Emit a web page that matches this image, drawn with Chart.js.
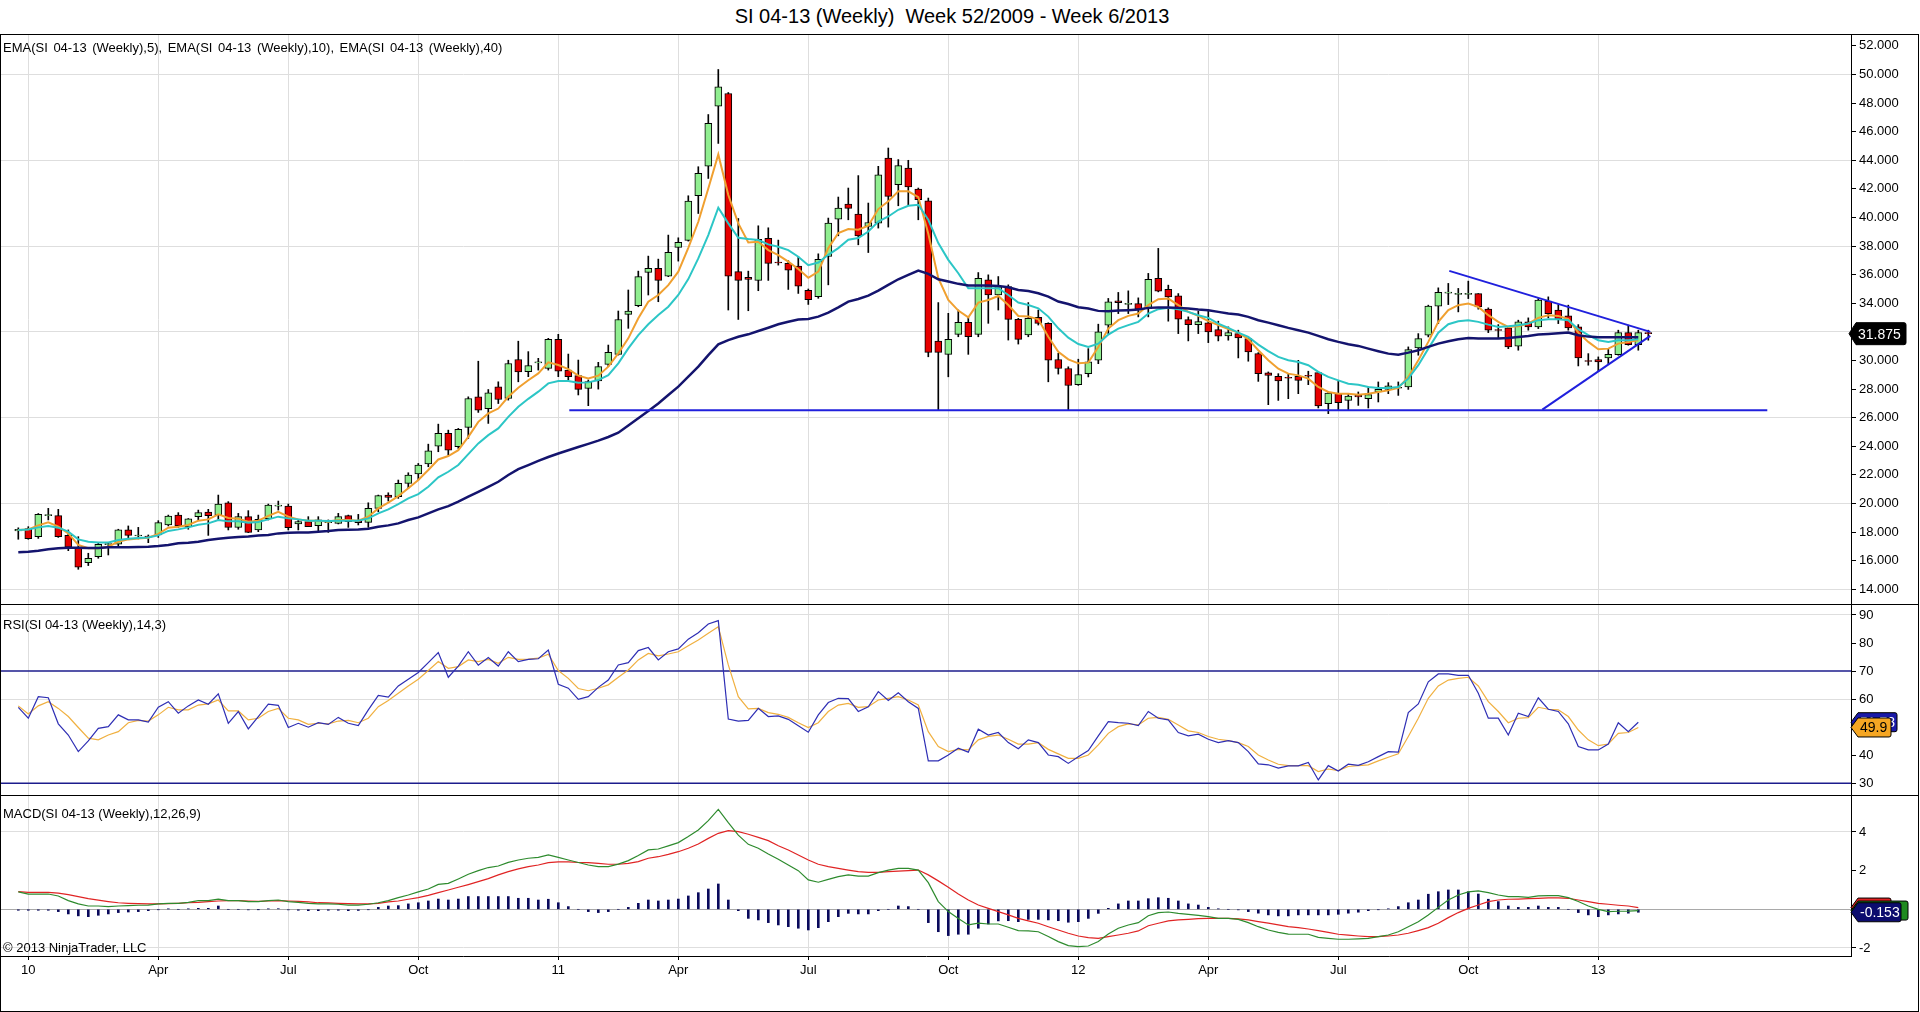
<!DOCTYPE html>
<html>
<head>
<meta charset="utf-8">
<title>SI 04-13 (Weekly)</title>
<script src="https://cdn.jsdelivr.net/npm/chart.js@4.4.1/dist/chart.umd.min.js"></script>
<style>
  html, body { margin: 0; padding: 0; background: #fff; width: 1920px; height: 1012px; overflow: hidden;
    font-family: "Liberation Sans", Arial, sans-serif; color: #000; }
  .abs { position: absolute; }
  canvas { position: absolute; left: 1px; }
  #title { left: 0; top: 5px; width: 1904px; text-align: center; font-size: 20px; white-space: pre; }
  #frame { left: 0; top: 34px; width: 1919px; height: 978px; border: 1px solid #000; box-sizing: border-box; }
  .sep { left: 0; width: 1919px; height: 1px; background: #000; }
  .lbl { left: 3px; font-size: 13px; line-height: 15px; white-space: pre; z-index: 3; }
  #emaLegend { word-spacing: 2px; }
</style>
</head>
<body>
<div id="title" class="abs">SI 04-13 (Weekly)  Week 52/2009 - Week 6/2013</div>
<div id="frame" class="abs"></div>
<canvas id="priceChart" width="1916" height="569" style="top:35px;width:1916px;height:569px"></canvas>
<canvas id="rsiChart" width="1916" height="190" style="top:605px;width:1916px;height:190px"></canvas>
<canvas id="macdChart" width="1916" height="214" style="top:796px;width:1916px;height:214px"></canvas>
<div class="abs sep" style="top:604px"></div>
<div class="abs sep" style="top:795px"></div>
<div id="emaLegend" class="abs lbl" style="top:40px">EMA(SI 04-13 (Weekly),5), EMA(SI 04-13 (Weekly),10), EMA(SI 04-13 (Weekly),40)</div>
<div class="abs lbl" style="top:617px">RSI(SI 04-13 (Weekly),14,3)</div>
<div class="abs lbl" style="top:806px">MACD(SI 04-13 (Weekly),12,26,9)</div>
<div class="abs lbl" style="top:940px">© 2013 NinjaTrader, LLC</div>

<script>
// Weekly bars, week 52/2009 .. week 6/2013 (bar index 0..163)
const opens = [18.08,18.24,17.68,19.15,19.15,17.77,16.87,15.87,16.28,17.12,
  17.15,18.15,17.73,17.70,17.80,18.50,19.19,18.38,19.08,19.40,
  19.19,20.05,18.33,19.08,18.15,18.94,19.82,19.82,18.57,18.73,
  18.45,18.66,18.61,19.15,18.80,18.68,19.66,20.59,20.48,21.41,
  22.06,22.76,24.01,24.90,23.97,25.32,27.46,26.64,28.16,27.34,
  30.07,29.22,29.83,29.45,31.48,29.33,28.94,28.05,28.57,29.73,
  30.43,33.22,33.83,36.16,36.44,35.90,37.91,38.40,41.52,43.59,
  47.79,48.67,36.21,35.81,35.60,38.54,36.86,36.79,36.60,34.90,
  34.47,37.27,39.89,40.94,40.24,39.37,39.61,44.16,42.29,43.46,
  41.99,41.17,31.36,30.43,31.83,32.67,31.83,35.64,34.58,35.17,
  32.88,31.78,33.02,32.60,30.07,29.44,28.31,29.08,30.02,32.47,
  34.17,33.92,33.98,33.63,35.74,34.97,34.52,32.86,32.51,32.63,
  32.16,31.72,31.88,31.53,30.48,29.13,28.89,28.80,28.89,28.94,
  29.15,26.98,27.68,27.21,27.56,27.33,27.80,27.98,28.06,28.15,
  30.88,31.77,33.80,34.71,34.62,34.62,34.68,33.59,32.14,32.28,
  31.00,32.70,32.35,34.15,33.52,33.12,32.35,29.97,30.06,30.18,
  30.41,31.95,31.11,31.90];
const highs = [18.30,18.38,19.30,19.66,19.59,18.15,17.68,16.52,17.22,17.26,
  18.20,18.43,18.33,17.80,18.80,19.19,19.36,18.95,19.54,19.59,
  20.59,20.13,19.31,19.50,19.19,19.96,20.17,19.96,18.85,19.08,
  19.08,18.85,19.31,19.19,19.24,20.05,20.59,20.75,21.64,22.15,
  22.80,24.15,25.55,25.13,25.25,27.46,29.95,27.97,28.51,30.02,
  31.35,30.62,30.15,31.55,31.83,30.45,30.03,28.64,29.87,31.08,
  33.46,34.93,36.25,37.30,37.09,38.77,38.58,41.52,43.55,47.20,
  50.35,48.74,39.93,36.25,39.42,39.28,38.42,36.98,37.26,35.00,
  37.46,39.96,41.43,42.06,42.93,41.01,43.58,44.86,44.05,44.00,
  42.06,41.36,34.05,33.30,33.53,33.07,36.15,35.99,35.87,35.29,
  32.95,34.05,33.53,32.64,30.50,29.56,30.09,30.83,32.54,34.34,
  34.76,34.87,34.38,36.09,37.84,35.27,34.68,33.05,33.45,33.47,
  32.75,32.35,32.12,31.58,30.55,29.20,29.08,29.08,30.01,29.25,
  29.20,27.80,28.54,27.68,27.80,28.15,28.50,28.45,28.50,30.95,
  31.88,33.87,35.08,35.39,35.04,35.55,34.68,33.68,32.51,32.35,
  32.82,32.98,34.33,34.45,33.91,33.87,32.51,30.48,30.25,30.83,
  32.12,32.47,32.12,32.12];
const lows = [17.50,17.50,17.56,18.85,17.63,16.70,15.40,15.66,16.17,16.40,
  17.03,17.52,17.52,17.26,17.63,18.43,18.33,18.20,18.85,17.77,
  18.85,18.15,18.20,17.96,18.03,18.85,19.54,18.15,18.15,18.38,
  18.10,17.98,18.57,18.33,18.50,18.33,19.43,20.17,20.36,21.06,
  21.64,22.57,23.62,23.39,23.85,24.55,26.37,25.60,26.99,27.23,
  28.51,28.87,29.33,29.33,28.87,28.64,27.59,26.84,28.00,29.57,
  30.38,32.25,33.76,34.58,34.11,35.86,36.95,38.35,40.28,42.73,
  45.18,33.53,32.87,33.48,34.88,35.60,36.67,34.97,34.69,33.92,
  34.35,35.29,38.72,39.84,38.09,37.55,39.26,39.33,40.82,40.89,
  39.84,30.26,26.52,28.86,31.66,30.43,31.66,32.60,33.53,31.43,
  31.15,31.66,32.48,28.51,29.05,26.52,28.26,28.85,29.78,31.88,
  33.28,33.28,33.05,33.05,34.80,32.75,31.88,31.37,31.88,31.25,
  31.37,31.42,30.18,29.95,28.54,26.91,27.21,27.33,27.68,28.31,
  26.68,26.28,26.51,26.51,26.86,26.68,27.10,27.68,27.56,27.98,
  30.37,31.65,32.58,33.91,33.40,34.33,33.59,31.95,31.58,30.83,
  30.72,32.12,32.23,32.98,32.58,32.12,29.62,29.67,29.25,29.78,
  30.37,31.07,30.72,31.42];
const closes = [18.19,17.54,19.24,19.20,17.68,16.94,15.54,16.17,17.15,17.18,
  18.15,17.77,17.77,17.66,18.66,19.12,18.43,18.92,19.36,19.15,
  19.96,18.33,19.08,17.98,18.89,19.89,19.86,18.31,18.73,18.38,
  18.85,18.70,19.08,18.73,18.66,19.66,20.55,20.43,21.41,21.99,
  22.69,23.69,24.90,23.73,25.18,27.34,26.53,27.74,27.27,29.79,
  29.21,29.64,29.87,31.48,29.26,28.87,27.98,28.52,29.57,30.57,
  32.87,33.46,35.86,36.44,35.60,37.56,38.26,41.15,43.08,46.58,
  49.14,35.90,35.60,35.67,38.47,36.79,36.82,36.32,35.20,34.25,
  37.08,39.61,40.66,40.64,38.72,39.65,42.99,41.48,43.63,42.13,
  41.24,30.57,30.57,31.48,32.67,31.66,35.75,34.58,35.17,32.88,
  31.48,32.95,32.60,30.03,29.44,28.25,29.01,29.90,32.00,34.10,
  34.05,33.96,33.59,35.67,34.85,34.45,32.89,32.51,32.72,32.00,
  31.70,31.95,31.58,30.60,29.08,28.96,28.57,28.76,28.61,28.90,
  26.82,27.73,27.05,27.52,27.45,27.61,27.98,28.22,28.10,30.76,
  31.53,33.80,34.76,34.75,34.66,34.66,33.75,32.12,32.10,30.95,
  32.70,32.35,34.22,33.28,32.89,32.28,30.18,29.93,29.90,30.44,
  31.95,31.11,31.95,31.875];

// Indicator lines (last bar still open: no value)
const ema5 = [18.15,18.19,18.47,18.68,18.38,17.91,17.10,16.87,16.87,16.98,
  17.33,17.49,17.56,17.61,17.87,18.31,18.38,18.50,18.80,18.89,
  19.24,18.99,18.94,18.73,18.80,19.13,19.41,19.08,18.89,18.80,
  18.80,18.75,18.85,18.85,18.80,19.08,19.66,20.06,20.52,21.06,
  21.64,22.34,23.08,23.32,23.73,24.66,25.71,26.30,26.64,27.46,
  28.10,28.62,29.10,29.87,29.68,29.40,28.94,28.75,28.94,29.57,
  30.50,31.55,32.95,34.11,34.58,35.27,36.21,37.88,39.70,42.03,
  44.41,41.57,39.59,38.26,38.30,37.72,37.37,36.91,36.40,35.78,
  36.22,37.86,38.91,39.19,39.14,39.42,40.59,41.13,41.83,41.83,
  41.43,38.86,35.75,34.23,33.49,33.02,34.05,34.23,34.51,33.88,
  33.11,33.07,32.88,31.66,30.61,30.08,29.80,29.85,30.95,32.23,
  32.82,33.12,33.28,33.87,34.29,34.33,33.87,33.40,33.12,32.75,
  32.47,32.19,31.95,31.49,30.72,30.02,29.43,29.08,28.96,28.73,
  28.15,27.80,27.68,27.68,27.61,27.68,27.80,27.91,28.08,28.85,
  30.02,31.30,32.70,33.52,33.87,33.98,33.75,33.17,32.70,32.35,
  32.40,32.58,32.98,33.17,33.12,32.89,31.95,31.30,30.79,30.83,
  31.18,31.30,31.42,null];
const ema10 = [18.15,18.19,18.33,18.42,18.31,18.03,17.49,17.33,17.28,17.28,
  17.45,17.54,17.59,17.63,17.77,18.08,18.19,18.33,18.52,18.61,
  18.85,18.75,18.75,18.66,18.71,18.89,19.08,18.96,18.89,18.80,
  18.80,18.78,18.80,18.80,18.80,18.96,19.31,19.59,19.96,20.36,
  20.66,21.17,21.83,22.22,22.69,23.45,24.20,24.78,25.25,26.06,
  26.76,27.32,27.82,28.40,28.56,28.56,28.45,28.47,28.63,28.98,
  29.80,30.85,31.78,32.53,33.18,33.76,34.58,35.69,37.14,38.77,
  40.68,39.59,38.58,38.49,38.42,38.12,37.95,37.72,37.26,36.66,
  36.85,37.39,37.86,38.44,38.56,39.02,39.72,40.07,40.54,40.82,
  40.89,39.84,38.21,37.04,36.10,35.05,35.05,35.05,35.05,34.58,
  34.05,33.88,33.65,33.07,32.25,31.60,31.15,30.95,31.18,31.81,
  32.23,32.47,32.70,33.28,33.59,33.68,33.59,33.40,33.17,32.98,
  32.58,32.28,31.95,31.65,31.11,30.65,30.25,30.02,29.90,29.67,
  29.20,28.85,28.61,28.38,28.31,28.15,28.08,28.08,28.15,28.73,
  29.67,30.83,31.95,32.54,32.75,32.82,32.70,32.51,32.35,32.40,
  32.47,32.58,32.82,32.89,32.89,32.82,32.19,31.77,31.42,31.30,
  31.42,31.42,31.49,null];
const ema40 = [16.59,16.63,16.70,16.80,16.87,16.91,16.90,16.89,16.89,16.94,
  16.94,16.94,16.96,16.98,17.03,17.10,17.22,17.26,17.33,17.45,
  17.54,17.61,17.66,17.70,17.77,17.80,17.91,17.96,17.98,17.98,
  18.03,18.08,18.15,18.17,18.19,18.24,18.38,18.47,18.61,18.85,
  19.03,19.31,19.59,19.82,20.13,20.48,20.82,21.17,21.52,21.99,
  22.40,22.69,22.98,23.25,23.50,23.72,23.95,24.17,24.40,24.65,
  24.95,25.45,25.96,26.47,27.00,27.59,28.17,28.87,29.57,30.38,
  31.13,31.43,31.66,31.83,32.06,32.29,32.53,32.71,32.87,32.91,
  33.07,33.35,33.72,34.12,34.30,34.54,34.89,35.29,35.68,35.99,
  36.29,36.06,35.68,35.52,35.36,35.24,35.24,35.24,35.21,35.12,
  34.93,34.86,34.70,34.47,34.12,33.95,33.72,33.63,33.47,33.45,
  33.49,33.52,33.56,33.68,33.70,33.70,33.68,33.63,33.56,33.52,
  33.40,33.28,33.21,33.05,32.82,32.65,32.47,32.28,32.12,31.95,
  31.72,31.49,31.30,31.14,31.02,30.83,30.65,30.48,30.41,30.55,
  30.72,30.95,31.18,31.35,31.49,31.58,31.53,31.53,31.53,31.58,
  31.65,31.72,31.81,31.86,31.91,31.95,31.77,31.67,31.63,31.63,
  31.63,31.63,31.63,null];

const rsi = [57.1,53.2,60.9,60.5,51.2,47.2,41.3,45.1,49.6,50.2,
  54.4,52.6,52.6,51.8,57.1,59.1,55.0,57.6,59.7,58.2,
  61.9,51.4,55.6,49.4,53.8,58.2,57.8,49.9,51.4,50.0,
  51.6,51.0,53.5,51.4,50.6,56.2,61.3,60.7,64.7,67.1,
  69.5,73.0,76.6,67.8,71.8,76.9,72.1,74.8,71.8,76.9,
  73.4,74.2,74.4,77.5,65.3,63.9,59.9,60.9,64.2,66.8,
  72.2,73.0,77.3,78.4,74.0,76.9,77.9,81.4,83.7,86.8,
  88.0,52.9,52.2,52.4,56.7,53.8,54.0,52.8,50.5,48.2,
  54.4,58.8,60.3,60.2,55.6,57.3,62.7,59.5,62.3,59.1,
  56.7,38.0,38.0,40.1,42.5,41.1,49.3,47.2,48.1,44.5,
  42.3,45.5,44.5,40.1,39.5,37.1,39.5,41.7,46.9,52.0,
  51.6,51.4,50.6,55.6,53.2,52.6,48.1,46.9,47.5,45.7,
  44.5,45.2,44.5,41.3,36.9,36.6,35.4,36.2,36.2,37.4,
  31.2,36.3,34.4,36.8,36.4,37.7,39.5,41.3,41.1,55.2,
  58.3,66.2,69.0,69.0,68.5,68.5,62.1,53.2,53.2,47.2,
  55.0,53.8,60.5,56.4,55.6,51.2,43.1,41.9,41.9,44.0,
  51.6,48.4,51.78,null];
const rsiAvg = [57.6,54.7,57.6,59.1,56.7,53.8,49.9,46.1,45.5,47.2,
  48.4,51.6,52.4,52.2,54.4,57.1,56.2,56.2,57.9,58.3,
  59.7,55.8,55.8,52.6,53.2,55.6,56.7,53.2,52.6,51.0,
  51.4,51.2,52.2,52.4,51.6,53.2,57.3,59.5,62.1,64.7,
  67.1,70.2,73.4,71.0,71.6,74.0,73.4,74.2,72.8,74.9,
  74.2,74.3,74.6,76.0,70.2,67.4,63.8,63.0,63.9,65.1,
  67.8,70.4,74.0,76.3,75.4,76.1,76.9,79.0,81.1,83.5,
  85.8,72.2,60.9,56.5,56.7,55.2,54.6,53.5,51.6,49.9,
  51.6,55.6,57.9,58.5,57.1,57.3,59.7,60.3,60.9,59.7,
  57.9,48.4,43.1,41.3,42.1,41.9,45.5,46.7,47.2,45.7,
  44.0,44.0,44.5,42.1,40.5,38.9,38.9,40.1,43.7,47.8,
  50.2,51.2,50.8,53.2,53.5,52.8,50.8,48.7,48.1,46.7,
  45.7,45.2,44.5,43.1,40.1,38.3,36.8,36.3,36.3,36.3,
  34.2,35.1,34.5,36.0,36.3,36.6,38.0,39.3,40.5,46.7,
  53.2,60.3,64.7,66.8,67.4,67.8,64.7,59.1,55.6,51.6,
  53.2,53.4,57.1,56.4,56.2,53.8,49.0,45.5,43.4,44.0,
  47.8,48.1,49.9,null];

const macd = [0.90,0.79,0.79,0.79,0.69,0.45,0.28,0.17,0.17,0.14,
  0.17,0.19,0.21,0.22,0.28,0.31,0.31,0.36,0.45,0.45,
  0.53,0.45,0.45,0.40,0.40,0.45,0.48,0.40,0.36,0.31,
  0.28,0.28,0.26,0.22,0.22,0.26,0.34,0.45,0.60,0.74,
  0.90,1.05,1.29,1.34,1.57,1.81,2.00,2.16,2.24,2.43,
  2.55,2.64,2.69,2.81,2.69,2.55,2.42,2.29,2.21,2.21,
  2.34,2.52,2.78,3.07,3.12,3.28,3.45,3.76,4.10,4.59,
  5.17,4.48,3.84,3.36,3.16,2.86,2.59,2.29,2.00,1.52,
  1.40,1.55,1.69,1.78,1.72,1.72,1.90,2.03,2.12,2.12,
  2.03,1.38,0.40,-0.12,-0.47,-0.81,-0.72,-0.76,-0.76,-0.93,
  -1.10,-1.12,-1.16,-1.41,-1.67,-1.88,-1.93,-1.90,-1.67,-1.28,
  -0.98,-0.81,-0.69,-0.33,-0.17,-0.14,-0.21,-0.26,-0.31,-0.38,
  -0.47,-0.47,-0.52,-0.69,-0.90,-1.07,-1.19,-1.28,-1.29,-1.29,
  -1.45,-1.50,-1.55,-1.55,-1.53,-1.50,-1.41,-1.33,-1.16,-0.90,
  -0.64,-0.29,0.10,0.48,0.74,0.90,0.95,0.86,0.74,0.66,
  0.66,0.62,0.69,0.71,0.71,0.60,0.40,0.17,0.00,-0.12,
  -0.10,-0.09,-0.065,null];
const macdAvg = [0.91,0.88,0.88,0.88,0.84,0.76,0.66,0.55,0.47,0.40,
  0.34,0.31,0.29,0.28,0.28,0.29,0.31,0.34,0.36,0.40,
  0.43,0.45,0.45,0.43,0.41,0.43,0.45,0.43,0.41,0.38,
  0.34,0.33,0.31,0.29,0.28,0.28,0.31,0.38,0.43,0.52,
  0.60,0.72,0.86,1.00,1.14,1.28,1.43,1.59,1.78,1.95,
  2.09,2.21,2.29,2.41,2.45,2.45,2.42,2.41,2.38,2.33,
  2.33,2.38,2.47,2.64,2.72,2.84,2.98,3.16,3.38,3.67,
  3.93,4.07,4.02,3.88,3.72,3.55,3.29,3.07,2.81,2.55,
  2.33,2.21,2.12,2.03,1.95,1.91,1.91,1.95,1.97,2.00,
  2.03,1.78,1.47,1.14,0.79,0.48,0.22,0.05,-0.12,-0.29,
  -0.47,-0.60,-0.72,-0.90,-1.07,-1.24,-1.38,-1.47,-1.50,-1.41,
  -1.33,-1.24,-1.12,-0.85,-0.72,-0.60,-0.55,-0.52,-0.48,-0.47,
  -0.47,-0.47,-0.50,-0.55,-0.64,-0.72,-0.81,-0.90,-0.95,-1.02,
  -1.10,-1.19,-1.29,-1.34,-1.38,-1.41,-1.41,-1.38,-1.33,-1.24,
  -1.10,-0.95,-0.72,-0.43,-0.17,0.05,0.22,0.40,0.48,0.52,
  0.53,0.55,0.57,0.59,0.59,0.57,0.48,0.40,0.31,0.26,
  0.21,0.17,0.09,null];
const macdDiff = [-0.05,-0.05,-0.05,-0.05,-0.12,-0.24,-0.34,-0.38,-0.31,-0.24,
  -0.17,-0.14,-0.12,-0.07,-0.02,0.02,0.00,0.02,0.05,0.05,
  0.17,0.00,0.00,-0.03,-0.01,0.02,0.03,-0.03,-0.05,-0.07,
  -0.07,-0.05,-0.05,-0.07,-0.06,-0.02,0.10,0.17,0.19,0.28,
  0.34,0.43,0.53,0.48,0.53,0.66,0.66,0.66,0.66,0.66,
  0.57,0.57,0.48,0.52,0.34,0.14,0.00,-0.12,-0.17,-0.12,
  0.00,0.10,0.31,0.48,0.43,0.48,0.53,0.69,0.86,1.05,
  1.31,0.48,-0.07,-0.47,-0.55,-0.69,-0.81,-0.90,-0.98,-1.07,
  -0.95,-0.64,-0.38,-0.21,-0.24,-0.24,-0.07,0.00,0.17,0.14,
  0.00,-0.69,-1.16,-1.36,-1.29,-1.29,-0.98,-0.76,-0.60,-0.59,
  -0.64,-0.52,-0.52,-0.55,-0.59,-0.67,-0.64,-0.47,-0.21,0.05,
  0.28,0.43,0.43,0.55,0.60,0.57,0.43,0.28,0.22,0.10,
  0.02,0.00,-0.03,-0.12,-0.20,-0.29,-0.34,-0.34,-0.29,-0.29,
  -0.29,-0.29,-0.26,-0.20,-0.15,-0.07,-0.02,0.02,0.14,0.34,
  0.48,0.78,0.91,1.00,1.00,0.91,0.79,0.52,0.40,0.17,
  0.10,0.10,0.17,0.10,0.10,0.00,-0.17,-0.29,-0.38,-0.29,
  -0.24,-0.20,-0.153,null];

// Hand-drawn chart lines (bar index, price)
const resistanceLine = [{ x: 143.1, y: 36.27 }, { x: 163.2, y: 32.0 }];
const risingSupport = [{ x: 152.4, y: 26.56 }, { x: 163.2, y: 31.72 }];
const floorLine = [{ x: 55.1, y: 26.52 }, { x: 174.9, y: 26.52 }];

// Axis ticks
const quarterBars = [1, 14, 27, 40, 54, 66, 79, 93, 106, 119, 132, 145, 158];
const quarterLabels = ['10', 'Apr', 'Jul', 'Oct', '11', 'Apr', 'Jul', 'Oct', '12', 'Apr', 'Jul', 'Oct', '13'];
const priceTicks = [14, 16, 18, 20, 22, 24, 26, 28, 30, 32, 34, 36, 38, 40, 42, 44, 46, 48, 50, 52];
const priceGrid = [14, 20, 26, 32, 38, 44, 50];
const rsiTicks = [30, 40, 50, 60, 70, 80, 90];
const rsiGrid = [60, 90];
const rsiLevels = [30, 70];
const macdTicks = [-2, 0, 2, 4];
const macdGrid = [-2, 4];

// layout
const X_MIN = -1.73, X_MAX = 183.27;
const AXIS_W = 66;
const GRID = '#dedede';
const FONT = '"Liberation Sans", Arial, sans-serif';

Chart.defaults.font.family = FONT;
Chart.defaults.font.size = 13;
Chart.defaults.color = '#000';

function pts(arr) {
  return arr.map((v, i) => ({ x: i, y: v }));
}

function xAxis(showLabels) {
  return {
    type: 'linear', min: X_MIN, max: X_MAX, offset: false,
    grid: { offset: false, color: GRID, drawTicks: showLabels, tickLength: 4, tickColor: '#000' },
    border: { display: showLabels, color: '#000' },
    ticks: {
      display: showLabels, autoSkip: false, maxRotation: 0, padding: 3,
      callback: (v, i) => quarterLabels[i]
    },
    afterBuildTicks: s => { s.ticks = quarterBars.map(v => ({ value: v })); },
    afterFit: s => { s.height = showLabels ? 54 : 0; s.paddingLeft = 0; s.paddingRight = 0; }
  };
}

function yAxis(min, max, ticks, grid, fmt, zeroLine) {
  return {
    position: 'right', min: min, max: max,
    grid: {
      color: c => grid.includes(c.tick.value) ? GRID : (zeroLine && c.tick.value === 0 ? '#a9a9a9' : 'rgba(0,0,0,0)'),
      tickColor: '#000', tickLength: 5
    },
    border: { display: true, color: '#000' },
    ticks: { padding: 3, autoSkip: false, callback: fmt },
    afterBuildTicks: s => { s.ticks = ticks.map(v => ({ value: v })); },
    afterFit: s => { s.width = AXIS_W; s.paddingTop = 0; s.paddingBottom = 0; }
  };
}

function drawTag(ctx, x, y, w, h, bg, fg, text) {
  ctx.save();
  ctx.beginPath();
  ctx.moveTo(x, y);
  ctx.lineTo(x + 7, y - h / 2);
  ctx.lineTo(x + w - 2, y - h / 2);
  ctx.quadraticCurveTo(x + w, y - h / 2, x + w, y - h / 2 + 2);
  ctx.lineTo(x + w, y + h / 2 - 2);
  ctx.quadraticCurveTo(x + w, y + h / 2, x + w - 2, y + h / 2);
  ctx.lineTo(x + 7, y + h / 2);
  ctx.closePath();
  ctx.fillStyle = bg;
  ctx.fill();
  ctx.strokeStyle = '#000';
  ctx.lineWidth = 1;
  ctx.stroke();
  ctx.fillStyle = fg;
  ctx.font = '14px ' + FONT;
  ctx.textBaseline = 'middle';
  ctx.textAlign = 'left';
  ctx.fillText(text, x + 9, y + 1);
  ctx.restore();
}

function tagPlugin(tags) {
  return {
    id: 'valueTags',
    afterDraw(chart) {
      const ctx = chart.ctx;
      const ys = chart.scales.y;
      const x0 = chart.chartArea.right;
      tags.forEach(t => drawTag(ctx, x0 + (t.dx || 0), ys.getPixelForValue(t.value), t.w, t.h, t.bg, t.fg, t.text));
    }
  };
}

const baseOptions = {
  responsive: false, animation: false, devicePixelRatio: 1, events: [],
  layout: { padding: 0 },
  plugins: { legend: { display: false }, tooltip: { enabled: false } }
};

function lineSet(data, color, width, order) {
  return { type: 'line', data: data, borderColor: color, borderWidth: width, pointRadius: 0,
           tension: 0, fill: false, order: order };
}

// ---- Price panel ----
const lastIdx = closes.length - 1;
const bodyColors = closes.map((c, i) => c >= opens[i] ? '#90ee90' : '#e60000');

new Chart(document.getElementById('priceChart'), {
  type: 'bar',
  data: {
    datasets: [
      { label: 'wick', data: lows.map((l, i) => ({ x: i, y: [l, highs[i]] })),
        backgroundColor: '#000', barThickness: 1, grouped: false, order: 3 },
      { label: 'body', data: opens.map((o, i) => ({ x: i, y: [o, closes[i]] })),
        backgroundColor: bodyColors, borderColor: '#000', borderWidth: 1, borderSkipped: false,
        barThickness: 7, minBarLength: 1, grouped: false, order: 2 },
      lineSet(pts(ema40), '#14146e', 2.5, 1),
      lineSet(pts(ema10), '#2cc6c6', 2, 1),
      lineSet(pts(ema5), '#f0a030', 2, 1),
      lineSet(floorLine, '#2020dd', 2, 0),
      lineSet(resistanceLine, '#2020dd', 2, 0),
      lineSet(risingSupport, '#2020dd', 2, 0)
    ]
  },
  options: Object.assign({}, baseOptions, {
    scales: {
      x: xAxis(false),
      y: yAxis(12.972, 52.762, priceTicks, priceGrid, v => v.toFixed(3), false)
    }
  }),
  plugins: [tagPlugin([
    { value: closes[lastIdx], w: 57, h: 22, bg: '#000', fg: '#fff', text: closes[lastIdx].toFixed(3), dx: -2 }
  ])]
});

// ---- RSI panel ----
const rsiLast = rsi[lastIdx - 1], rsiAvgLast = rsiAvg[lastIdx - 1];
new Chart(document.getElementById('rsiChart'), {
  type: 'line',
  data: {
    datasets: [
      ...rsiLevels.map(v => lineSet([{ x: X_MIN, y: v }, { x: X_MAX, y: v }], '#1c1c8c', 1.5, 2)),
      lineSet(pts(rsiAvg), '#f0b040', 1.2, 1),
      lineSet(pts(rsi), '#2e2eb4', 1.2, 0)
    ]
  },
  options: Object.assign({}, baseOptions, {
    scales: {
      x: xAxis(false),
      y: yAxis(25.829, 93.565, rsiTicks, rsiGrid, v => String(v), false)
    }
  }),
  plugins: [tagPlugin([
    { value: rsiLast, w: 46, h: 19, bg: '#1a1aa8', fg: '#fff', text: rsiLast.toFixed(2) },
    { value: rsiAvgLast, w: 40, h: 19, bg: '#f5a623', fg: '#000', text: rsiAvgLast.toFixed(1) }
  ])]
});

// ---- MACD panel ----
const macdLast = macd[lastIdx - 1], avgLast = macdAvg[lastIdx - 1], diffLast = macdDiff[lastIdx - 1];
new Chart(document.getElementById('macdChart'), {
  type: 'bar',
  data: {
    datasets: [
      { label: 'diff', data: pts(macdDiff), backgroundColor: '#0a0a5c', barThickness: 2,
        grouped: false, order: 3 },
      lineSet(pts(macdAvg), '#e02424', 1.2, 1),
      lineSet(pts(macd), '#2e8b2e', 1.2, 0)
    ]
  },
  options: Object.assign({}, baseOptions, {
    scales: {
      x: xAxis(true),
      y: yAxis(-2.416, 5.861, macdTicks, macdGrid, v => String(v), true)
    }
  }),
  plugins: [tagPlugin([
    { value: avgLast, w: 40, h: 19, bg: '#e02020', fg: '#fff', text: avgLast.toFixed(2) },
    { value: macdLast, w: 57, h: 19, bg: '#1f8a1f', fg: '#fff', text: macdLast.toFixed(3) },
    { value: diffLast, w: 50, h: 19, bg: '#0c0c6e', fg: '#fff', text: diffLast.toFixed(3) }
  ])]
});
</script>
</body>
</html>
